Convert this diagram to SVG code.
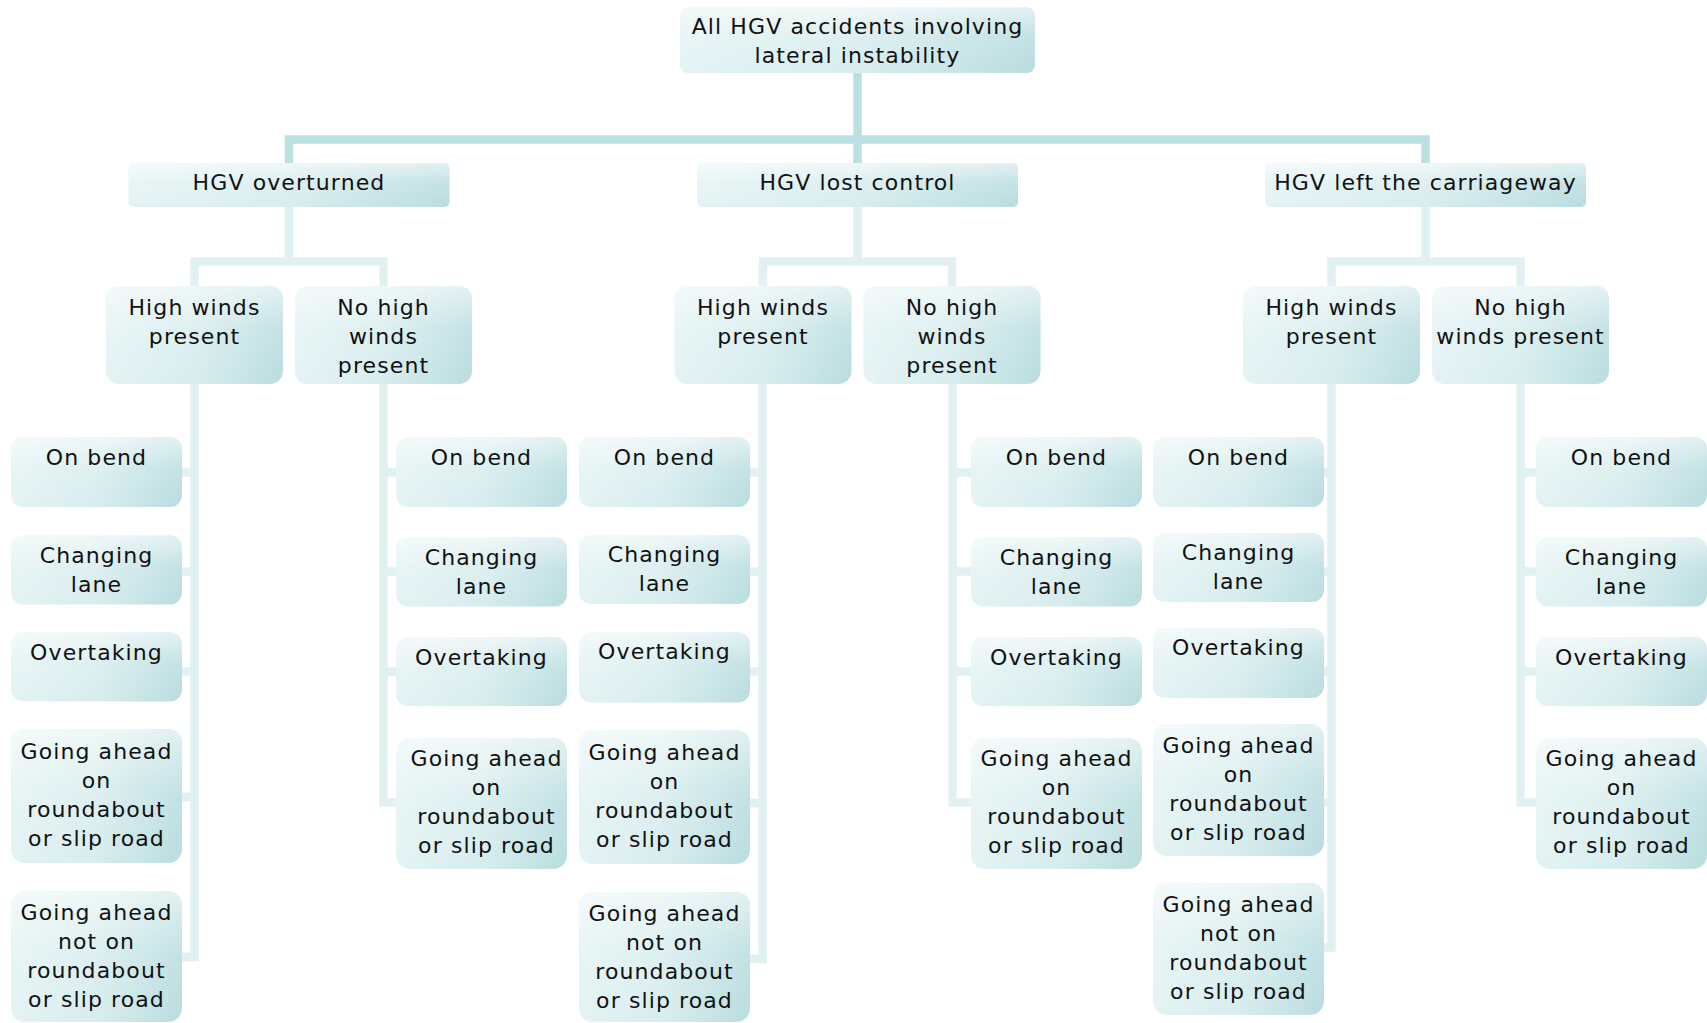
<svg xmlns="http://www.w3.org/2000/svg" width="1707" height="1023" viewBox="0 0 1707 1023">
<defs>
<linearGradient id="fillH" x1="0" y1="0" x2="1" y2="0">
<stop offset="0" stop-color="#e4f3f4"/>
<stop offset="0.5" stop-color="#d8edee"/>
<stop offset="1" stop-color="#b9dde0"/>
</linearGradient>
<linearGradient id="shade" x1="0" y1="0" x2="0" y2="1">
<stop offset="0" stop-color="#ffffff" stop-opacity="0.6"/>
<stop offset="0.45" stop-color="#ffffff" stop-opacity="0.15"/>
<stop offset="1" stop-color="#ffffff" stop-opacity="0"/>
</linearGradient>
<style>
.b{fill:url(#fillH);}
.s{fill:url(#shade);}
.t{font-family:"DejaVu Sans","Verdana",sans-serif;font-size:22px;letter-spacing:1.1px;fill:#111;text-anchor:middle;}
.c1{fill:none;stroke:#bcdfe1;stroke-width:8.5;stroke-linejoin:miter;}
.c2{fill:none;stroke:#e1f1f2;stroke-width:8.5;stroke-linejoin:miter;}
</style>
</defs>
<rect width="1707" height="1023" fill="#ffffff"/>

<g id="connectors">
<path class="c1" d="M857.5,73 V163"/>
<path class="c1" d="M289,163 V139.5 H1425.5 V163"/>
<path class="c2" d="M289,207 V261.5"/>
<path class="c2" d="M194.5,286 V261.5 H383.5 V286"/>
<path class="c2" d="M857.5,207 V261.5"/>
<path class="c2" d="M763,286 V261.5 H952 V286"/>
<path class="c2" d="M1425.5,207 V261.5"/>
<path class="c2" d="M1331.5,286 V261.5 H1520.5 V286"/>
<path class="c2" d="M194.5,384 V957 H178 M194.5,472.5 H178 M194.5,571.5 H178 M194.5,671.5 H178 M194.5,797 H178"/>
<path class="c2" d="M383.5,384 V802.5 H400 M383.5,472.5 H400 M383.5,571.5 H400 M383.5,671.5 H400"/>
<path class="c2" d="M762.5,384 V959 H745 M762.5,472.5 H745 M762.5,571.5 H745 M762.5,671.5 H745 M762.5,803 H745"/>
<path class="c2" d="M952.5,384 V802.5 H975 M952.5,472.5 H975 M952.5,571.5 H975 M952.5,671.5 H975"/>
<path class="c2" d="M1331.5,384 V947.5 H1319 M1331.5,472.5 H1319 M1331.5,571.5 H1319 M1331.5,671.5 H1319 M1331.5,802.5 H1319"/>
<path class="c2" d="M1520.5,384 V802.5 H1540 M1520.5,472.5 H1540 M1520.5,571.5 H1540 M1520.5,671.5 H1540"/>
</g>

<g id="root"><rect class="b" x="680" y="7.5" width="355" height="65.5" rx="8"/><rect class="s" x="680" y="7.5" width="355" height="65.5" rx="8"/>
<text class="t" x="857.5" y="34">All HGV accidents involving</text><text class="t" x="857.5" y="63">lateral instability</text></g>

<g id="overturned"><rect class="b" x="128.5" y="163" width="321" height="44" rx="5"/><rect class="s" x="128.5" y="163" width="321" height="44" rx="5"/><text class="t" x="289" y="190">HGV overturned</text></g>
<g id="lost-control"><rect class="b" x="697" y="163" width="321" height="44" rx="5"/><rect class="s" x="697" y="163" width="321" height="44" rx="5"/><text class="t" x="857.5" y="190">HGV lost control</text></g>
<g id="left-carriageway"><rect class="b" x="1265" y="163" width="321" height="44" rx="5"/><rect class="s" x="1265" y="163" width="321" height="44" rx="5"/><text class="t" x="1425.5" y="190">HGV left the carriageway</text></g>

<g id="over-hw"><rect class="b" x="106" y="286" width="177" height="98" rx="13"/><rect class="s" x="106" y="286" width="177" height="98" rx="13"/><text class="t" x="194.5" y="315">High winds</text><text class="t" x="194.5" y="344">present</text></g>
<g id="over-nhw"><rect class="b" x="295" y="286" width="177" height="98" rx="13"/><rect class="s" x="295" y="286" width="177" height="98" rx="13"/><text class="t" x="383.5" y="315">No high</text><text class="t" x="383.5" y="344">winds</text><text class="t" x="383.5" y="373">present</text></g>
<g id="lost-hw"><rect class="b" x="674.5" y="286" width="177" height="98" rx="13"/><rect class="s" x="674.5" y="286" width="177" height="98" rx="13"/><text class="t" x="763" y="315">High winds</text><text class="t" x="763" y="344">present</text></g>
<g id="lost-nhw"><rect class="b" x="863.5" y="286" width="177" height="98" rx="13"/><rect class="s" x="863.5" y="286" width="177" height="98" rx="13"/><text class="t" x="952" y="315">No high</text><text class="t" x="952" y="344">winds</text><text class="t" x="952" y="373">present</text></g>
<g id="left-hw"><rect class="b" x="1243" y="286" width="177" height="98" rx="13"/><rect class="s" x="1243" y="286" width="177" height="98" rx="13"/><text class="t" x="1331.5" y="315">High winds</text><text class="t" x="1331.5" y="344">present</text></g>
<g id="left-nhw"><rect class="b" x="1432" y="286" width="177" height="98" rx="13"/><rect class="s" x="1432" y="286" width="177" height="98" rx="13"/><text class="t" x="1520.5" y="315">No high</text><text class="t" x="1520.5" y="344">winds present</text></g>

<!-- Column A -->
<g id="a1"><rect class="b" x="11" y="437" width="171" height="70" rx="12"/><rect class="s" x="11" y="437" width="171" height="70" rx="12"/><text class="t" x="96.5" y="465">On bend</text></g>
<g id="a2"><rect class="b" x="11" y="535.5" width="171" height="69" rx="12"/><rect class="s" x="11" y="535.5" width="171" height="69" rx="12"/><text class="t" x="96.5" y="563">Changing</text><text class="t" x="96.5" y="592">lane</text></g>
<g id="a3"><rect class="b" x="11" y="632.5" width="171" height="69" rx="12"/><rect class="s" x="11" y="632.5" width="171" height="69" rx="12"/><text class="t" x="96.5" y="660">Overtaking</text></g>
<g id="a4"><rect class="b" x="11" y="729" width="171" height="134" rx="14"/><rect class="s" x="11" y="729" width="171" height="134" rx="14"/><text class="t" x="96.5" y="759">Going ahead</text><text class="t" x="96.5" y="788">on</text><text class="t" x="96.5" y="817">roundabout</text><text class="t" x="96.5" y="846">or slip road</text></g>
<g id="a5"><rect class="b" x="11" y="891" width="171" height="131" rx="14"/><rect class="s" x="11" y="891" width="171" height="131" rx="14"/><text class="t" x="96.5" y="920">Going ahead</text><text class="t" x="96.5" y="949">not on</text><text class="t" x="96.5" y="978">roundabout</text><text class="t" x="96.5" y="1007">or slip road</text></g>

<!-- Column B -->
<g id="b1"><rect class="b" x="396" y="437" width="171" height="70" rx="12"/><rect class="s" x="396" y="437" width="171" height="70" rx="12"/><text class="t" x="481.5" y="465">On bend</text></g>
<g id="b2"><rect class="b" x="396" y="537.5" width="171" height="69" rx="12"/><rect class="s" x="396" y="537.5" width="171" height="69" rx="12"/><text class="t" x="481.5" y="565">Changing</text><text class="t" x="481.5" y="594">lane</text></g>
<g id="b3"><rect class="b" x="396" y="637" width="171" height="69" rx="12"/><rect class="s" x="396" y="637" width="171" height="69" rx="12"/><text class="t" x="481.5" y="665">Overtaking</text></g>
<g id="b4"><rect class="b" x="396" y="738" width="171" height="131" rx="14"/><rect class="s" x="396" y="738" width="171" height="131" rx="14"/><text class="t" x="486.5" y="766">Going ahead</text><text class="t" x="486.5" y="795">on</text><text class="t" x="486.5" y="824">roundabout</text><text class="t" x="486.5" y="853">or slip road</text></g>

<!-- Column C -->
<g id="c1"><rect class="b" x="579" y="437" width="171" height="70" rx="12"/><rect class="s" x="579" y="437" width="171" height="70" rx="12"/><text class="t" x="664.5" y="465">On bend</text></g>
<g id="c2"><rect class="b" x="579" y="535" width="171" height="69" rx="12"/><rect class="s" x="579" y="535" width="171" height="69" rx="12"/><text class="t" x="664.5" y="562">Changing</text><text class="t" x="664.5" y="591">lane</text></g>
<g id="c3"><rect class="b" x="579" y="632.5" width="171" height="70" rx="12"/><rect class="s" x="579" y="632.5" width="171" height="70" rx="12"/><text class="t" x="664.5" y="659">Overtaking</text></g>
<g id="c4"><rect class="b" x="579" y="730" width="171" height="134" rx="14"/><rect class="s" x="579" y="730" width="171" height="134" rx="14"/><text class="t" x="664.5" y="760">Going ahead</text><text class="t" x="664.5" y="789">on</text><text class="t" x="664.5" y="818">roundabout</text><text class="t" x="664.5" y="847">or slip road</text></g>
<g id="c5"><rect class="b" x="579" y="892" width="171" height="130" rx="14"/><rect class="s" x="579" y="892" width="171" height="130" rx="14"/><text class="t" x="664.5" y="921">Going ahead</text><text class="t" x="664.5" y="950">not on</text><text class="t" x="664.5" y="979">roundabout</text><text class="t" x="664.5" y="1008">or slip road</text></g>

<!-- Column D -->
<g id="d1"><rect class="b" x="971" y="437" width="171" height="70" rx="12"/><rect class="s" x="971" y="437" width="171" height="70" rx="12"/><text class="t" x="1056.5" y="465">On bend</text></g>
<g id="d2"><rect class="b" x="971" y="537.5" width="171" height="69" rx="12"/><rect class="s" x="971" y="537.5" width="171" height="69" rx="12"/><text class="t" x="1056.5" y="565">Changing</text><text class="t" x="1056.5" y="594">lane</text></g>
<g id="d3"><rect class="b" x="971" y="637" width="171" height="69" rx="12"/><rect class="s" x="971" y="637" width="171" height="69" rx="12"/><text class="t" x="1056.5" y="665">Overtaking</text></g>
<g id="d4"><rect class="b" x="971" y="738" width="171" height="131" rx="14"/><rect class="s" x="971" y="738" width="171" height="131" rx="14"/><text class="t" x="1056.5" y="766">Going ahead</text><text class="t" x="1056.5" y="795">on</text><text class="t" x="1056.5" y="824">roundabout</text><text class="t" x="1056.5" y="853">or slip road</text></g>

<!-- Column E -->
<g id="e1"><rect class="b" x="1153" y="437" width="171" height="70" rx="12"/><rect class="s" x="1153" y="437" width="171" height="70" rx="12"/><text class="t" x="1238.5" y="465">On bend</text></g>
<g id="e2"><rect class="b" x="1153" y="533" width="171" height="69" rx="12"/><rect class="s" x="1153" y="533" width="171" height="69" rx="12"/><text class="t" x="1238.5" y="560">Changing</text><text class="t" x="1238.5" y="589">lane</text></g>
<g id="e3"><rect class="b" x="1153" y="628" width="171" height="70" rx="12"/><rect class="s" x="1153" y="628" width="171" height="70" rx="12"/><text class="t" x="1238.5" y="655">Overtaking</text></g>
<g id="e4"><rect class="b" x="1153" y="724" width="171" height="132" rx="14"/><rect class="s" x="1153" y="724" width="171" height="132" rx="14"/><text class="t" x="1238.5" y="753">Going ahead</text><text class="t" x="1238.5" y="782">on</text><text class="t" x="1238.5" y="811">roundabout</text><text class="t" x="1238.5" y="840">or slip road</text></g>
<g id="e5"><rect class="b" x="1153" y="883" width="171" height="132" rx="14"/><rect class="s" x="1153" y="883" width="171" height="132" rx="14"/><text class="t" x="1238.5" y="912">Going ahead</text><text class="t" x="1238.5" y="941">not on</text><text class="t" x="1238.5" y="970">roundabout</text><text class="t" x="1238.5" y="999">or slip road</text></g>

<!-- Column F -->
<g id="f1"><rect class="b" x="1536" y="437" width="171" height="70" rx="12"/><rect class="s" x="1536" y="437" width="171" height="70" rx="12"/><text class="t" x="1621.5" y="465">On bend</text></g>
<g id="f2"><rect class="b" x="1536" y="537.5" width="171" height="69" rx="12"/><rect class="s" x="1536" y="537.5" width="171" height="69" rx="12"/><text class="t" x="1621.5" y="565">Changing</text><text class="t" x="1621.5" y="594">lane</text></g>
<g id="f3"><rect class="b" x="1536" y="637" width="171" height="69" rx="12"/><rect class="s" x="1536" y="637" width="171" height="69" rx="12"/><text class="t" x="1621.5" y="665">Overtaking</text></g>
<g id="f4"><rect class="b" x="1536" y="738" width="171" height="131" rx="14"/><rect class="s" x="1536" y="738" width="171" height="131" rx="14"/><text class="t" x="1621.5" y="766">Going ahead</text><text class="t" x="1621.5" y="795">on</text><text class="t" x="1621.5" y="824">roundabout</text><text class="t" x="1621.5" y="853">or slip road</text></g>
</svg>
